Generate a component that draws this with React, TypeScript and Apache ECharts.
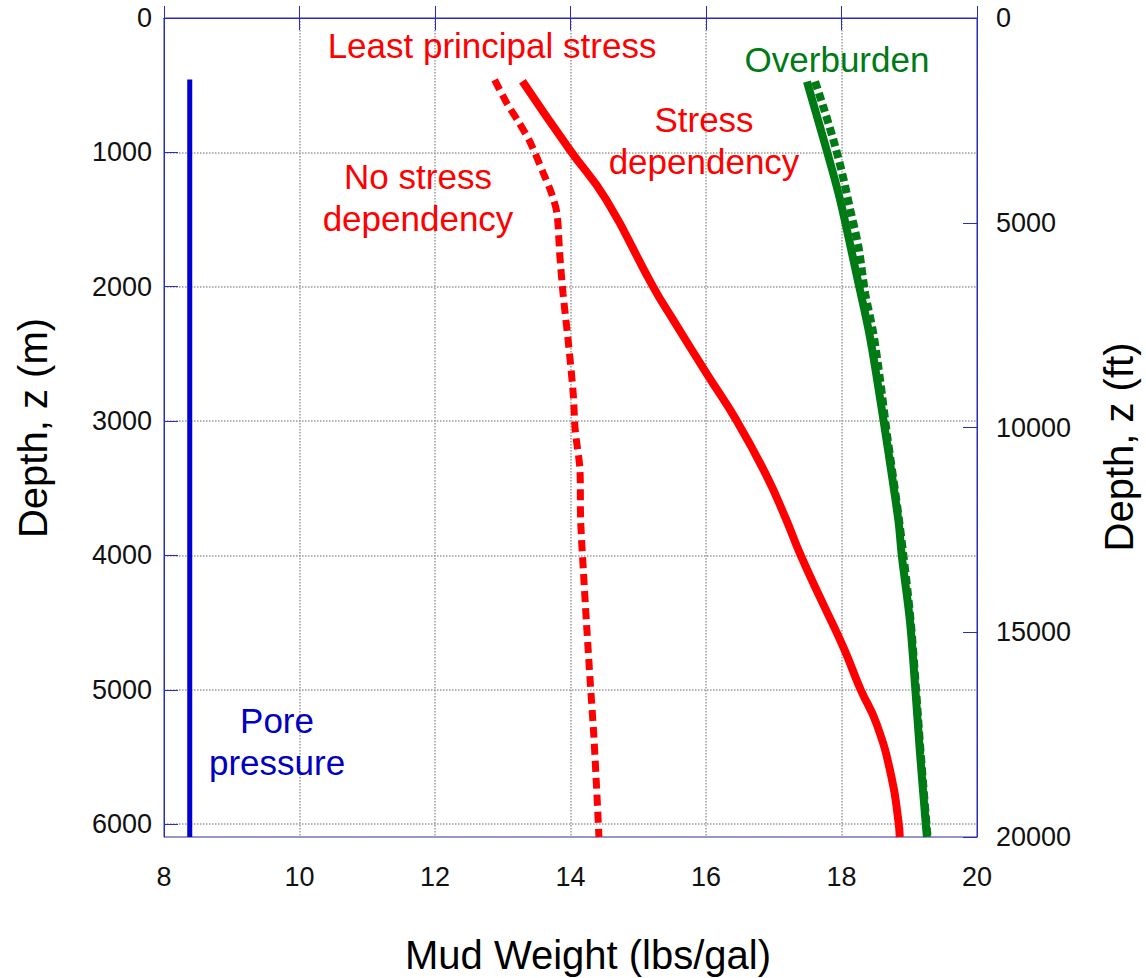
import React, { useEffect, useRef } from "react";
import * as echarts from "echarts";

// Depth (m) and mud weight (lbs/gal)
const depthStressDep = [470, 982, 1355, 2001, 2250, 2647, 2995, 3393, 3717, 4002, 4363, 4686, 4996, 5257, 5655, 5978, 6096];
const mwStressDep = [13.29, 13.99, 14.53, 15.22, 15.52, 16.01, 16.45, 16.88, 17.17, 17.4, 17.73, 18.03, 18.28, 18.52, 18.74, 18.84, 18.86];

const depthNoStressDep = [460, 634, 771, 920, 1156, 1305, 1454, 1752, 2051, 2424, 2796, 3070, 3368, 3741, 4114, 4537, 4934, 5307, 5680, 6096];
const mwNoStressDep = [12.88, 13.06, 13.23, 13.4, 13.6, 13.72, 13.8, 13.84, 13.89, 13.97, 14.04, 14.07, 14.14, 14.15, 14.19, 14.24, 14.29, 14.34, 14.38, 14.42];

const depthOverburden = [473, 982, 1355, 1927, 2374, 2995, 3741, 4002, 4487, 4996, 5481, 6096];
const mwOverburden = [17.49, 17.78, 17.98, 18.23, 18.42, 18.62, 18.84, 18.89, 19.01, 19.09, 19.16, 19.26];

const depthOverburdenAlt = [473, 659, 907, 1156, 1430, 1703, 2051, 2349, 2697, 3095, 3741, 4487, 5481, 6096];
const mwOverburdenAlt = [17.61, 17.73, 17.88, 18.01, 18.13, 18.25, 18.35, 18.47, 18.57, 18.67, 18.85, 19.02, 19.17, 19.27];

const depthPore = [457, 6096];
const mwPore = [8.38, 8.38];

const xTicks = { min: 8, max: 20, interval: 2 };
const depthMaxM = 6096;
const depthMaxFt = 20000;

const zip = (xs: number[], ys: number[]) => xs.map((x, i) => [x, ys[i]]);

const FONT = "'Liberation Sans', Arial, Helvetica, sans-serif";
const AXIS_BLUE = "#2a2ac8";

export default function App() {
  const ref = useRef<HTMLDivElement>(null);
  useEffect(() => {
    if (!ref.current) return;
    const chart = echarts.init(ref.current, undefined, { renderer: "svg" });
    const gridLeft = 164;
    const gridTop = 18;
    const gridW = 813;
    const gridH = 819;
    const tickLabel = {
      fontFamily: FONT,
      fontSize: 27,
      color: "#111",
      formatter: (v: number) => String(v),
    };
    const annot = (text: string, x: number, y: number, color: string) => ({
      type: "text",
      x,
      y,
      style: {
        text,
        fill: color,
        font: `35px ${FONT}`,
        textAlign: "center",
        textVerticalAlign: "middle",
        lineHeight: 42,
      },
      z: 10,
    });
    const axisName = (text: string, x: number, y: number, rotate: boolean) => ({
      type: "text",
      x,
      y,
      rotation: rotate ? Math.PI / 2 : 0,
      style: {
        text,
        fill: "#000",
        font: `40px ${FONT}`,
        textAlign: "center",
        textVerticalAlign: "middle",
      },
    });
    chart.setOption({
      animation: false,
      backgroundColor: "#ffffff",
      grid: {
        left: gridLeft,
        top: gridTop,
        width: gridW,
        height: gridH,
        show: true,
        borderColor: AXIS_BLUE,
        borderWidth: 1,
        containLabel: false,
      },
      xAxis: [
        {
          type: "value",
          position: "bottom",
          min: xTicks.min,
          max: xTicks.max,
          interval: xTicks.interval,
          axisLine: { show: true, lineStyle: { color: AXIS_BLUE, width: 1 } },
          axisTick: { show: true, inside: true, length: 12, lineStyle: { color: AXIS_BLUE, width: 1 } },
          axisLabel: { ...tickLabel, margin: 26 },
          splitLine: { show: true, lineStyle: { color: "#9a9a9a", type: "dotted", width: 1.5 } },
        },
        {
          type: "value",
          position: "top",
          min: xTicks.min,
          max: xTicks.max,
          interval: xTicks.interval,
          axisLine: { show: true, lineStyle: { color: AXIS_BLUE, width: 1 } },
          axisTick: { show: true, inside: true, length: 12, lineStyle: { color: AXIS_BLUE, width: 1 } },
          axisLabel: { show: false },
          splitLine: { show: false },
        },
      ],
      yAxis: [
        {
          type: "value",
          position: "left",
          inverse: true,
          min: 0,
          max: depthMaxM,
          interval: 1000,
          axisLine: { show: true, lineStyle: { color: AXIS_BLUE, width: 1 } },
          axisTick: { show: true, inside: true, length: 14, lineStyle: { color: AXIS_BLUE, width: 1 } },
          axisLabel: { ...tickLabel, margin: 12, showMaxLabel: false },
          splitLine: { show: true, lineStyle: { color: "#9a9a9a", type: "dotted", width: 1.5 } },
        },
        {
          type: "value",
          position: "right",
          inverse: true,
          min: 0,
          max: depthMaxFt,
          interval: 5000,
          axisLine: { show: true, lineStyle: { color: AXIS_BLUE, width: 1 } },
          axisTick: { show: true, inside: true, length: 14, lineStyle: { color: AXIS_BLUE, width: 1 } },
          axisLabel: { ...tickLabel, margin: 19 },
          splitLine: { show: false },
        },
      ],
      series: [
        {
          name: "Pore pressure",
          type: "line",
          data: zip(mwPore, depthPore),
          showSymbol: false,
          lineStyle: { color: "#0000d0", width: 5 },
          z: 3,
        },
        {
          name: "No stress dependency",
          type: "line",
          data: zip(mwNoStressDep, depthNoStressDep),
          showSymbol: false,
          smooth: 0.3,
          lineStyle: { color: "#ff0000", width: 7, type: [11, 6] },
          z: 3,
        },
        {
          name: "Stress dependency",
          type: "line",
          data: zip(mwStressDep, depthStressDep),
          showSymbol: false,
          smooth: 0.5,
          lineStyle: { color: "#ff0000", width: 8 },
          z: 3,
        },
        {
          name: "Overburden (alt)",
          type: "line",
          data: zip(mwOverburdenAlt, depthOverburdenAlt),
          showSymbol: false,
          smooth: 0.3,
          lineStyle: { color: "#007a14", width: 8, type: [8, 4] },
          z: 3,
        },
        {
          name: "Overburden",
          type: "line",
          data: zip(mwOverburden, depthOverburden),
          showSymbol: false,
          smooth: 0.3,
          lineStyle: { color: "#007a14", width: 8 },
          z: 4,
        },
      ],
      graphic: [
        annot("Least principal stress", 492, 45, "#ff0000"),
        annot("Overburden", 837, 59, "#007a14"),
        annot("Stress\ndependency", 704, 140, "#ff0000"),
        annot("No stress\ndependency", 418, 197, "#ff0000"),
        annot("Pore\npressure", 277, 741, "#0000c0"),
        axisName("Depth, z (m)", 33, 428, true),
        axisName("Depth, z (ft)", 1119, 447, true),
        axisName("Mud Weight (lbs/gal)", 588, 955, false),
      ],
    });
    return () => chart.dispose();
  }, []);
  return <div ref={ref} style={{ width: 1146, height: 978, position: "absolute", left: 0, top: 0 }} />;
}
